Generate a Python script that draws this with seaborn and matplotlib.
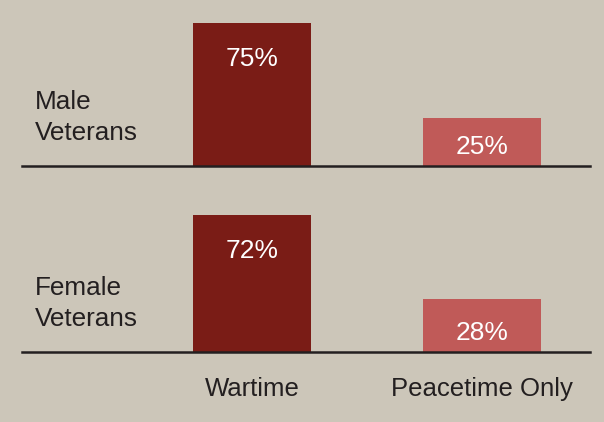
import seaborn as sns
import pandas as pd
import matplotlib.pyplot as plt

# data
service = ['Wartime', 'Peacetime Only']
male_pct = [75, 25]
female_pct = [72, 28]
groups = ['Male\nVeterans', 'Female\nVeterans']

bg = '#CCC6B9'
colors = {'Wartime': '#7A1C16', 'Peacetime Only': '#C05A58'}

sns.set_theme(style='white')
plt.rcParams['font.family'] = ['Liberation Sans', 'DejaVu Sans']

fig = plt.figure(figsize=(6.04, 4.22), dpi=100, facecolor=bg)
ax_top = fig.add_axes([0.0364, 0.6066, 0.9404, 0.3616])
ax_bot = fig.add_axes([0.0364, 0.1659, 0.9404, 0.3616])

for ax, vals, label in zip([ax_top, ax_bot], [male_pct, female_pct], groups):
    df = pd.DataFrame({'service': service, 'pct': vals})
    sns.barplot(data=df, x='service', y='pct', hue='service', palette=colors,
                dodge=False, width=0.513, legend=False, saturation=1,
                linewidth=0, ax=ax)
    ax.set_facecolor(bg)
    ax.set_xlim(-1.0, 1.4696)
    ax.set_ylim(0, 80)
    ax.set_xlabel('')
    ax.set_ylabel('')
    ax.set_yticks([])
    for s in ['top', 'left', 'right']:
        ax.spines[s].set_visible(False)
    ax.spines['bottom'].set_color('#231F20')
    ax.spines['bottom'].set_linewidth(1.8)
    ax.spines['bottom'].set_zorder(5)
    ax.tick_params(axis='x', length=0, pad=18, labelsize=18.5, colors='#231F20')
    # value labels inside the bars
    for i, v in enumerate(vals):
        y = v - 19 if v > 50 else 10.2
        ax.text(i, y, f'{v}%', ha='center', va='center', color='white', fontsize=19)
    # row label on the left
    ax.text(-0.943, 25.5, label, ha='left', va='center', fontsize=18.8,
            color='#231F20', linespacing=1.35)

ax_top.set_xticklabels([])

fig.savefig('out.png', dpi=100, facecolor=bg)
